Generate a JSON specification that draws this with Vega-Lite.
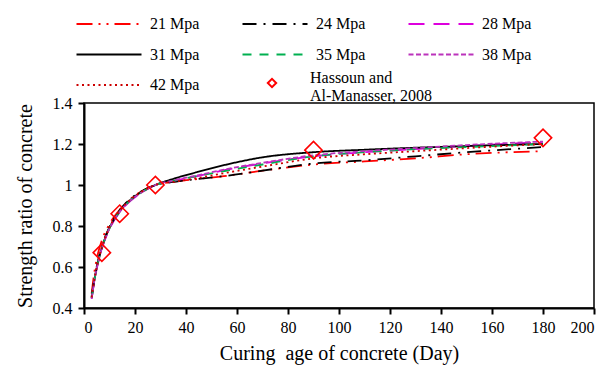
{
  "$schema": "https://vega.github.io/schema/vega-lite/v6.json",
  "width": 510,
  "height": 205,
  "autosize": {"type": "none"},
  "padding": {"left": 84, "top": 103, "right": 19, "bottom": 57},
  "config": {
    "font": "Liberation Serif",
    "style": {"guide-label": {"font": "Liberation Serif", "fill": "black"}, "guide-title": {"font": "Liberation Serif", "fill": "black"}},
    "view": {"stroke": "black", "strokeWidth": 1.5},
    "axis": {"labelFont": "Liberation Serif", "titleFont": "Liberation Serif", "labelColor": "black", "titleColor": "black", "domainColor": "black", "tickColor": "black", "domainWidth": 2, "tickWidth": 2, "tickSize": 6, "grid": false, "labelFontSize": 16, "titleFontSize": 20, "titleFontWeight": "normal"},
    "legend": {"labelFont": "Liberation Serif", "labelColor": "black"}
  },
  "data": {"values": [
    {"s":"21 Mpa","t":3,"r":0.47},{"s":"21 Mpa","t":4,"r":0.57},{"s":"21 Mpa","t":5,"r":0.64},{"s":"21 Mpa","t":7,"r":0.73},{"s":"21 Mpa","t":10,"r":0.81},{"s":"21 Mpa","t":14,"r":0.88},{"s":"21 Mpa","t":18,"r":0.93},{"s":"21 Mpa","t":22,"r":0.965},{"s":"21 Mpa","t":28,"r":1.0},{"s":"21 Mpa","t":35,"r":1.015},{"s":"21 Mpa","t":45,"r":1.03},{"s":"21 Mpa","t":56,"r":1.045},{"s":"21 Mpa","t":70,"r":1.07},{"s":"21 Mpa","t":90,"r":1.1},{"s":"21 Mpa","t":110,"r":1.115},{"s":"21 Mpa","t":130,"r":1.13},{"s":"21 Mpa","t":150,"r":1.15},{"s":"21 Mpa","t":180,"r":1.165},
    {"s":"24 Mpa","t":3,"r":0.455},{"s":"24 Mpa","t":4,"r":0.537},{"s":"24 Mpa","t":5,"r":0.602},{"s":"24 Mpa","t":7,"r":0.699},{"s":"24 Mpa","t":10,"r":0.796},{"s":"24 Mpa","t":14,"r":0.877},{"s":"24 Mpa","t":18,"r":0.93},{"s":"24 Mpa","t":22,"r":0.965},{"s":"24 Mpa","t":28,"r":1.0},{"s":"24 Mpa","t":35,"r":1.015},{"s":"24 Mpa","t":45,"r":1.03},{"s":"24 Mpa","t":56,"r":1.045},{"s":"24 Mpa","t":70,"r":1.07},{"s":"24 Mpa","t":90,"r":1.105},{"s":"24 Mpa","t":110,"r":1.12},{"s":"24 Mpa","t":130,"r":1.14},{"s":"24 Mpa","t":150,"r":1.16},{"s":"24 Mpa","t":180,"r":1.185},
    {"s":"28 Mpa","t":3,"r":0.445},{"s":"28 Mpa","t":4,"r":0.527},{"s":"28 Mpa","t":5,"r":0.592},{"s":"28 Mpa","t":7,"r":0.689},{"s":"28 Mpa","t":10,"r":0.786},{"s":"28 Mpa","t":14,"r":0.867},{"s":"28 Mpa","t":18,"r":0.92},{"s":"28 Mpa","t":22,"r":0.958},{"s":"28 Mpa","t":28,"r":1.0},{"s":"28 Mpa","t":35,"r":1.02},{"s":"28 Mpa","t":45,"r":1.045},{"s":"28 Mpa","t":56,"r":1.075},{"s":"28 Mpa","t":70,"r":1.105},{"s":"28 Mpa","t":90,"r":1.14},{"s":"28 Mpa","t":110,"r":1.16},{"s":"28 Mpa","t":130,"r":1.175},{"s":"28 Mpa","t":150,"r":1.19},{"s":"28 Mpa","t":180,"r":1.21},
    {"s":"31 Mpa","t":3,"r":0.45},{"s":"31 Mpa","t":4,"r":0.532},{"s":"31 Mpa","t":5,"r":0.597},{"s":"31 Mpa","t":7,"r":0.694},{"s":"31 Mpa","t":10,"r":0.791},{"s":"31 Mpa","t":14,"r":0.872},{"s":"31 Mpa","t":18,"r":0.925},{"s":"31 Mpa","t":22,"r":0.962},{"s":"31 Mpa","t":28,"r":1.0},{"s":"31 Mpa","t":35,"r":1.03},{"s":"31 Mpa","t":45,"r":1.065},{"s":"31 Mpa","t":56,"r":1.1},{"s":"31 Mpa","t":70,"r":1.135},{"s":"31 Mpa","t":90,"r":1.16},{"s":"31 Mpa","t":110,"r":1.172},{"s":"31 Mpa","t":130,"r":1.182},{"s":"31 Mpa","t":150,"r":1.19},{"s":"31 Mpa","t":180,"r":1.2},
    {"s":"35 Mpa","t":3,"r":0.448},{"s":"35 Mpa","t":4,"r":0.53},{"s":"35 Mpa","t":5,"r":0.595},{"s":"35 Mpa","t":7,"r":0.692},{"s":"35 Mpa","t":10,"r":0.789},{"s":"35 Mpa","t":14,"r":0.87},{"s":"35 Mpa","t":18,"r":0.923},{"s":"35 Mpa","t":22,"r":0.96},{"s":"35 Mpa","t":28,"r":1.0},{"s":"35 Mpa","t":35,"r":1.02},{"s":"35 Mpa","t":45,"r":1.045},{"s":"35 Mpa","t":56,"r":1.07},{"s":"35 Mpa","t":70,"r":1.1},{"s":"35 Mpa","t":90,"r":1.14},{"s":"35 Mpa","t":110,"r":1.16},{"s":"35 Mpa","t":130,"r":1.175},{"s":"35 Mpa","t":150,"r":1.185},{"s":"35 Mpa","t":180,"r":1.2},
    {"s":"38 Mpa","t":3,"r":0.447},{"s":"38 Mpa","t":4,"r":0.529},{"s":"38 Mpa","t":5,"r":0.594},{"s":"38 Mpa","t":7,"r":0.691},{"s":"38 Mpa","t":10,"r":0.788},{"s":"38 Mpa","t":14,"r":0.869},{"s":"38 Mpa","t":18,"r":0.922},{"s":"38 Mpa","t":22,"r":0.959},{"s":"38 Mpa","t":28,"r":1.0},{"s":"38 Mpa","t":35,"r":1.022},{"s":"38 Mpa","t":45,"r":1.048},{"s":"38 Mpa","t":56,"r":1.078},{"s":"38 Mpa","t":70,"r":1.108},{"s":"38 Mpa","t":90,"r":1.145},{"s":"38 Mpa","t":110,"r":1.165},{"s":"38 Mpa","t":130,"r":1.18},{"s":"38 Mpa","t":150,"r":1.195},{"s":"38 Mpa","t":180,"r":1.212},
    {"s":"42 Mpa","t":3,"r":0.452},{"s":"42 Mpa","t":4,"r":0.534},{"s":"42 Mpa","t":5,"r":0.599},{"s":"42 Mpa","t":7,"r":0.696},{"s":"42 Mpa","t":10,"r":0.793},{"s":"42 Mpa","t":14,"r":0.874},{"s":"42 Mpa","t":18,"r":0.927},{"s":"42 Mpa","t":22,"r":0.963},{"s":"42 Mpa","t":28,"r":1.0},{"s":"42 Mpa","t":35,"r":1.015},{"s":"42 Mpa","t":45,"r":1.035},{"s":"42 Mpa","t":56,"r":1.06},{"s":"42 Mpa","t":70,"r":1.09},{"s":"42 Mpa","t":90,"r":1.13},{"s":"42 Mpa","t":110,"r":1.15},{"s":"42 Mpa","t":130,"r":1.165},{"s":"42 Mpa","t":150,"r":1.18},{"s":"42 Mpa","t":180,"r":1.2},
    {"s":"Hassoun and Al-Manasser, 2008","t":7,"r":0.67},{"s":"Hassoun and Al-Manasser, 2008","t":14,"r":0.86},{"s":"Hassoun and Al-Manasser, 2008","t":28,"r":1.0},{"s":"Hassoun and Al-Manasser, 2008","t":90,"r":1.17},{"s":"Hassoun and Al-Manasser, 2008","t":180,"r":1.23}
  ]},
  "layer": [
    {
      "transform": [{"filter": "datum.s != 'Hassoun and Al-Manasser, 2008'"}],
      "mark": {"type": "line", "interpolate": "monotone", "strokeWidth": 1.8},
      "encoding": {
        "x": {"field": "t", "type": "quantitative", "scale": {"domain": [0, 200], "nice": false},
              "axis": {"values": [0,20,40,60,80,100,120,140,160,180,200], "title": "Curing\u00a0 age of concrete (Day)", "labelFont": "Liberation Serif", "titleFont": "Liberation Serif", "labelPadding": 5, "titlePadding": 8}},
        "y": {"field": "r", "type": "quantitative", "scale": {"domain": [0.4, 1.4], "nice": false, "zero": false},
              "axis": {"values": [0.4,0.6,0.8,1,1.2,1.4], "format": "~g", "title": "Strength ratio of concrete", "labelFont": "Liberation Serif", "titleFont": "Liberation Serif", "labelPadding": 6, "titlePadding": 17}},
        "color": {"field": "s", "type": "nominal",
          "scale": {"domain": ["21 Mpa","24 Mpa","28 Mpa","31 Mpa","35 Mpa","38 Mpa","42 Mpa"],
                    "range": ["#ff0000","#000000","#dd00dd","#000000","#00b050","#bb33bb","#cc0000"]},
          "legend": {"orient": "none", "direction": "horizontal", "legendX": -9, "legendY": -113, "title": null, "columns": 3, "gridAlign": "none", "columnPadding": 38, "rowPadding": -11.5,
                     "symbolType": "stroke", "symbolSize": 4225, "symbolStrokeWidth": 2.2, "labelFont": "Liberation Serif", "labelFontSize": 16, "labelOffset": 7, "labelLimit": 300, "padding": 0}},
        "strokeDash": {"field": "s", "type": "nominal",
          "scale": {"domain": ["21 Mpa","24 Mpa","28 Mpa","31 Mpa","35 Mpa","38 Mpa","42 Mpa"],
                    "range": [[16,6,2,6,2,6],[14,7,2,7],[16,9],[1,0],[9,8],[5,2.5],[2,3.5]]}}
      }
    },
    {
      "transform": [{"filter": "datum.s == 'Hassoun and Al-Manasser, 2008'"}],
      "mark": {"type": "point", "shape": "diamond", "size": 300, "filled": false, "color": "#ff0000", "strokeWidth": 1.6, "opacity": 1},
      "encoding": {
        "x": {"field": "t", "type": "quantitative"},
        "y": {"field": "r", "type": "quantitative"},
        "shape": {"field": "s", "type": "nominal",
          "scale": {"domain": ["Hassoun and Al-Manasser, 2008"], "range": ["diamond"]},
          "legend": {"orient": "none", "legendX": 180, "legendY": -28, "title": null, "padding": 0,
                     "symbolSize": 70, "symbolStrokeWidth": 2, "symbolStrokeColor": "#ff0000", "symbolFillColor": "transparent", "symbolOpacity": 1,
                     "labelFont": "Liberation Serif", "labelFontSize": 16, "labelOffset": 30, "labelLimit": 300, "labelBaseline": "alphabetic",
                     "labelExpr": "['Hassoun and', 'Al-Manasser, 2008']"}}
      }
    }
  ]
}
